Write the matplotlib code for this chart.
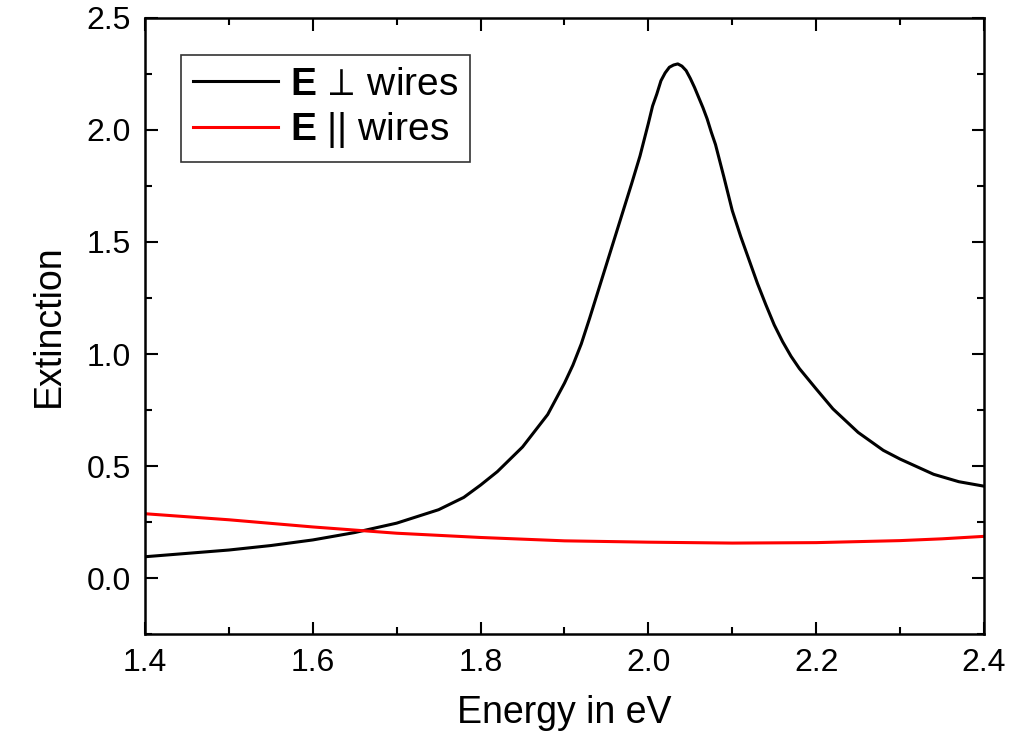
import numpy as np
import matplotlib
matplotlib.use("Agg")
import matplotlib.pyplot as plt
from matplotlib.ticker import MultipleLocator

plt.rcParams['font.family'] = ['Liberation Sans', 'DejaVu Sans']
plt.rcParams['mathtext.fontset'] = 'custom'
plt.rcParams['mathtext.rm'] = 'Liberation Sans'
plt.rcParams['mathtext.bf'] = 'Liberation Sans:bold'
plt.rcParams['mathtext.fallback'] = 'stixsans'

# extinction spectra, E perpendicular and parallel to the wires
energy_perp = [1.40, 1.45, 1.50, 1.55, 1.60, 1.65, 1.70, 1.75, 1.78, 1.80,
               1.82, 1.85, 1.88, 1.90, 1.91, 1.92, 1.93, 1.94, 1.95, 1.96,
               1.97, 1.98, 1.99, 2.00, 2.005, 2.01, 2.015, 2.02, 2.025, 2.03,
               2.035, 2.04, 2.045, 2.05, 2.055, 2.06, 2.065, 2.07, 2.075, 2.08,
               2.09, 2.10, 2.11, 2.12, 2.13, 2.14, 2.15, 2.16, 2.17, 2.18,
               2.20, 2.22, 2.25, 2.28, 2.30, 2.34, 2.37, 2.40]
ext_perp = [0.095, 0.110, 0.125, 0.145, 0.170, 0.203, 0.245, 0.305, 0.360, 0.415,
            0.475, 0.585, 0.730, 0.870, 0.950, 1.045, 1.160, 1.280, 1.400, 1.520,
            1.640, 1.760, 1.884, 2.030, 2.107, 2.160, 2.220, 2.255, 2.280, 2.290,
            2.295, 2.285, 2.265, 2.230, 2.190, 2.145, 2.100, 2.050, 1.990, 1.935,
            1.790, 1.640, 1.525, 1.420, 1.315, 1.220, 1.130, 1.055, 0.990, 0.935,
            0.844, 0.755, 0.650, 0.570, 0.531, 0.463, 0.430, 0.410]

energy_par = [1.40, 1.50, 1.60, 1.70, 1.80, 1.90, 2.00, 2.10, 2.20, 2.30, 2.35, 2.40]
ext_par = [0.287, 0.260, 0.228, 0.200, 0.181, 0.166, 0.160, 0.156, 0.158, 0.167, 0.175, 0.186]

fig = plt.figure(figsize=(10.09, 7.49), dpi=100)
ax = fig.add_axes([0.1437, 0.1535, 0.8315, 0.8225])

ax.plot(energy_perp, ext_perp, color='black', lw=2.2, label=r'$\mathbf{E}$ $\!\perp\!$ wires')
ax.plot(energy_par, ext_par, color='red', lw=2.2, label=r'$\mathbf{E}$ || wires')

ax.set_xlim(1.4, 2.4)
ax.set_ylim(-0.25, 2.5)
ax.xaxis.set_major_locator(MultipleLocator(0.2))
ax.xaxis.set_minor_locator(MultipleLocator(0.1))
ax.yaxis.set_major_locator(MultipleLocator(0.5))
ax.yaxis.set_minor_locator(MultipleLocator(0.25))
ax.tick_params(which='both', direction='in', top=True, right=True, width=1.5, labelsize=23)
ax.tick_params(which='major', length=9, pad=10)
ax.tick_params(which='minor', length=5)
ax.xaxis.set_major_formatter(plt.FormatStrFormatter('%.1f'))
ax.yaxis.set_major_formatter(plt.FormatStrFormatter('%.1f'))
for s in ax.spines.values():
    s.set_linewidth(1.8)

ax.set_xlabel('Energy in eV', fontsize=27, labelpad=12)
ax.set_ylabel('Extinction', fontsize=27, labelpad=14)

leg = ax.legend(loc='upper left', bbox_to_anchor=(0.043, 0.940), borderaxespad=0,
                fontsize=28, frameon=True, fancybox=False, edgecolor='black',
                handlelength=2.2, handletextpad=0.3, labelspacing=0.2,
                borderpad=0.3)
leg.get_frame().set_linewidth(1.2)

fig.savefig('out.png', dpi=100)
